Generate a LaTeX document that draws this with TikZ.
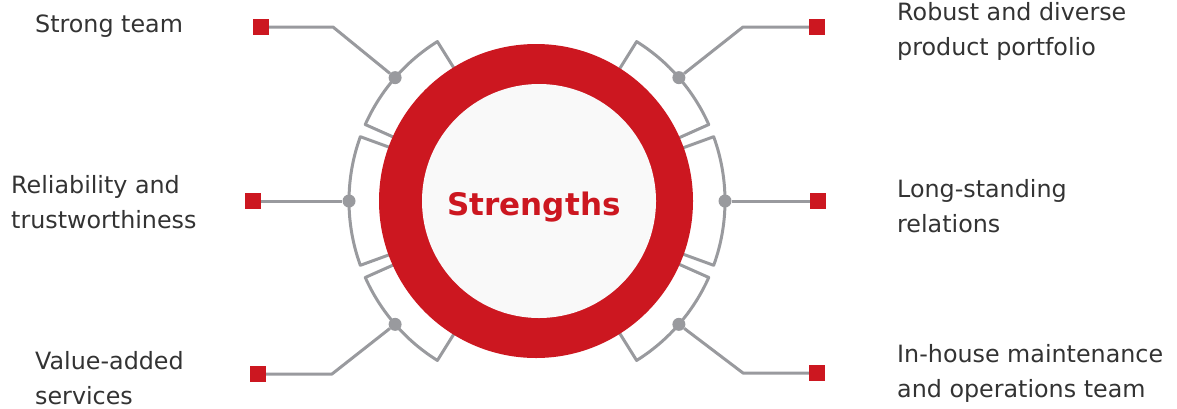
\documentclass[tikz,border=0pt]{standalone}
\usepackage{fontspec}
\newfontfamily\labelfont{DejaVu Sans}
\definecolor{accred}{HTML}{CC1720}
\definecolor{linegray}{HTML}{999A9E}
\definecolor{txtgray}{HTML}{333333}
\definecolor{corefill}{HTML}{F9F9F9}
\tikzset{
  label/.style={font=\labelfont\fontsize{23.8}{35}\selectfont, text=txtgray, align=left, inner sep=0pt, anchor=base west},
  marker/.style={rectangle, fill=accred, minimum size=16pt, inner sep=0pt},
  hub/.style={circle, fill=linegray, minimum size=13pt, inner sep=0pt},
  link/.style={draw=linegray, line width=3pt, line join=round},
}

\begin{document}
\begin{tikzpicture}[x=1pt,y=1pt]
\useasboundingbox (0,0) rectangle (1177,-408);
\begin{scope}[shift={(537,-201)}]
\foreach \a/\w in {180/20, 139/17, 221/17, 0/20, 41/17, -41/17}
  \path[link] (\a-\w:150) -- (\a-\w:188) arc[start angle=\a-\w, end angle=\a+\w, radius=188] -- (\a+\w:150);
\node[hub] (hL) at (180:188) {};
\node[hub] (hTL) at (139:188) {};
\node[hub] (hBL) at (221:188) {};
\node[hub] (hR) at (0:188) {};
\node[hub] (hTR) at (41:188) {};
\node[hub] (hBR) at (-41:188) {};
\end{scope}
\node[marker] (sTL) at (261,-27) {};
\node[marker] (sL) at (253,-201) {};
\node[marker] (sBL) at (258,-374) {};
\node[marker] (sTR) at (817,-27) {};
\node[marker] (sR) at (818,-201) {};
\node[marker] (sBR) at (817,-373) {};
\coordinate (kTL) at (333,-27);
\coordinate (kBL) at (332,-374);
\coordinate (kTR) at (743,-27);
\coordinate (kBR) at (743,-373);
\path[link] (sTL) -- (kTL) -- (hTL);
\path[link] (sL) -- (hL);
\path[link] (sBL) -- (kBL) -- (hBL);
\path[link] (sTR) -- (kTR) -- (hTR);
\path[link] (sR) -- (hR);
\path[link] (sBR) -- (kBR) -- (hBR);
% ring
\fill[accred] (536,-201) circle[radius=157];
\fill[corefill] (539,-201) circle[radius=117];
\node[font=\labelfont\bfseries\fontsize{31}{36}\selectfont, text=accred, anchor=base, inner sep=0pt] (core) at (534,-215) {Strengths};
% labels (anchored at the last baseline)
\node[label] (t1) at (35,-32) {Strong team};
\node[label] (t2) at (11,-228) {Reliability and\\trustworthiness};
\node[label] (t3) at (35,-404) {Value-added\\services};
\node[label] (t4) at (897,-55) {Robust and diverse\\product portfolio};
\node[label] (t5) at (897,-232) {Long-standing\\relations};
\node[label] (t6) at (897,-397) {In-house maintenance\\and operations team};
\end{tikzpicture}
\end{document}
